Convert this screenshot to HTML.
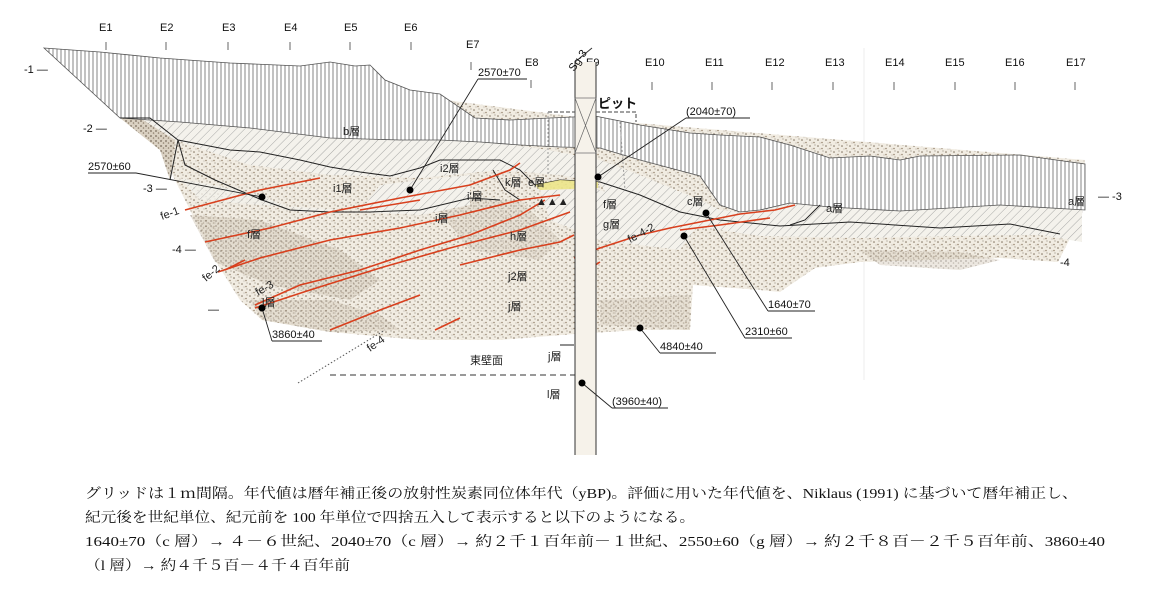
<!DOCTYPE html>
<html><head><meta charset="utf-8">
<style>
html,body{margin:0;padding:0;background:#fff;}
svg{display:block;}
.t{font-family:"Liberation Sans","Noto Sans CJK JP",sans-serif;font-size:11px;fill:#222;}
.n{font-family:"Liberation Sans",sans-serif;font-size:11px;fill:#111;}
.m{font-family:"Liberation Serif","Noto Serif CJK SC",serif;font-size:14px;fill:#111;}
.r{stroke:#d8401e;stroke-width:1.6;fill:none;}
.k{stroke:#222;stroke-width:1;fill:none;}
</style></head>
<body>
<svg width="1150" height="590" viewBox="0 0 1150 590" xmlns="http://www.w3.org/2000/svg">
<defs>
<pattern id="vl" width="4" height="10" patternUnits="userSpaceOnUse"><rect width="4" height="10" fill="#fff"/><line x1="1" y1="0" x2="1" y2="10" stroke="#666" stroke-width="0.8"/></pattern>
<pattern id="dg" width="6" height="6" patternUnits="userSpaceOnUse" patternTransform="rotate(45)"><rect width="6" height="6" fill="#f4f2ec"/><line x1="0" y1="0" x2="0" y2="6" stroke="#888" stroke-width="0.7"/></pattern>
<pattern id="dt" width="8" height="6" patternUnits="userSpaceOnUse"><rect width="8" height="6" fill="#f1ece2"/><circle cx="2" cy="2" r="0.8" fill="#7d6e5c"/><circle cx="6" cy="4.5" r="0.8" fill="#978670"/><circle cx="7" cy="1" r="0.5" fill="#6d6050"/><circle cx="4" cy="5" r="0.4" fill="#6d6050"/></pattern>
<pattern id="dd" width="5" height="5" patternUnits="userSpaceOnUse"><rect width="5" height="5" fill="#d8cfc0"/><circle cx="1" cy="1" r="0.9" fill="#6d5f4f"/><circle cx="3.5" cy="3" r="0.8" fill="#857563"/></pattern>
</defs>

<g class="n">
<text x="99" y="31">E1</text><text x="160" y="31">E2</text><text x="222" y="31">E3</text><text x="284" y="31">E4</text><text x="344" y="31">E5</text><text x="404" y="31">E6</text>
<text x="466" y="48">E7</text><text x="525" y="66">E8</text><text x="586" y="66">E9</text><text x="645" y="66">E10</text><text x="705" y="66">E11</text><text x="765" y="66">E12</text><text x="825" y="66">E13</text><text x="885" y="66">E14</text><text x="945" y="66">E15</text><text x="1005" y="66">E16</text><text x="1066" y="66">E17</text>
</g>
<g stroke="#666" stroke-width="1">
<line x1="106" y1="42" x2="106" y2="50"/><line x1="166" y1="42" x2="166" y2="50"/><line x1="228" y1="42" x2="228" y2="50"/><line x1="290" y1="42" x2="290" y2="50"/><line x1="350" y1="42" x2="350" y2="50"/><line x1="411" y1="42" x2="411" y2="50"/>
<line x1="471" y1="62" x2="471" y2="70"/><line x1="531" y1="80" x2="531" y2="88"/>
<line x1="591" y1="82" x2="591" y2="90"/><line x1="652" y1="82" x2="652" y2="90"/><line x1="712" y1="82" x2="712" y2="90"/><line x1="772" y1="82" x2="772" y2="90"/><line x1="833" y1="82" x2="833" y2="90"/><line x1="894" y1="82" x2="894" y2="90"/><line x1="955" y1="82" x2="955" y2="90"/><line x1="1015" y1="82" x2="1015" y2="90"/><line x1="1075" y1="82" x2="1075" y2="90"/>
<line x1="864" y1="48" x2="864" y2="380" stroke="#eee"/>
</g>
<g class="n">
<text x="24" y="73">-1 —</text><text x="83" y="132">-2 —</text><text x="143" y="192">-3 —</text><text x="172" y="253">-4 —</text><text x="208" y="313">—</text>
<text x="1098" y="200">— -3</text><text x="1060" y="266">-4</text>
</g>

<path d="M44,48 L120,118 L160,150 L185,200 L215,260 L240,300 L262,320 L330,332 L420,340 L500,340 L574,334 L640,330 L690,330 L693,285 L760,290 L780,292 L815,268 L860,262 L1000,258 L1058,262 L1082,215 L1085,160 L600,120 Z" fill="url(#dt)"/>
<path d="M190,215 L260,220 L340,250 L380,280 L350,300 L270,285 L215,262 Z" fill="url(#dd)" opacity="0.55"/>
<path d="M250,300 L330,300 L380,315 L400,330 L330,332 L262,320 Z" fill="url(#dd)" opacity="0.5"/>
<path d="M430,200 L520,200 L560,240 L540,260 L470,250 Z" fill="url(#dd)" opacity="0.4"/>
<path d="M600,300 L690,295 L690,330 L600,325 Z" fill="url(#dd)" opacity="0.4"/>
<path d="M860,250 L960,252 L1000,260 L960,270 L880,265 Z" fill="url(#dd)" opacity="0.5"/>
<path d="M120,118 L150,118 L175,140 L170,180 L160,150 Z" fill="url(#dd)" opacity="0.9"/>

<path d="M140,118 L300,122 L420,132 L480,140 L548,150 L600,160 L640,175 L700,200 L720,210 L740,212 L790,203 L830,207 L900,211 L1000,205 L1082,210 L1082,242 L1040,235 L960,236 L860,238 L760,236 L700,227 L640,212 L620,220 L600,182 L560,175 L500,170 L420,178 L330,175 L250,165 L175,140 Z" fill="url(#dg)"/>
<path d="M380,185 L420,180 L470,175 L470,205 L420,215 L360,212 Z" fill="url(#dg)"/>
<path d="M540,190 L600,190 L700,222 L680,250 L600,240 L550,220 Z" fill="url(#dg)"/>
<path d="M180,178 L260,195 L300,212 L330,212 L350,210 L260,205 L200,200 Z" fill="url(#dg)" opacity="0.8"/>

<path d="M44,48 L100,52 L160,58 L230,63 L300,66 L330,62 L355,66 L370,65 L385,80 L410,90 L440,94 L475,118 L510,120 L550,118 L595,116 L640,125 L690,133 L720,135 L760,137 L790,145 L830,158 L870,156 L900,160 L920,156 L1020,155 L1085,164 L1085,210 L1000,205 L900,211 L830,207 L790,203 L760,210 L740,212 L720,205 L700,176 L640,160 L600,148 L560,147 L520,145 L480,142 L440,140 L400,140 L330,138 L250,128 L180,122 L120,118 Z" fill="url(#vl)" stroke="#555" stroke-width="0.8"/>

<path class="k" d="M120,118 L150,118 L178,140 L230,150 L260,152 L300,160 L330,167 L360,172 L390,176 L420,168 L440,160 L470,160 L500,160 L520,170 L535,185 L560,180 L600,182 L640,195 L680,212 L720,220 L780,226 L850,222 L940,228 L1010,224 L1060,234"/>
<path class="k" d="M178,140 L185,165 L215,180 L262,200 L290,210 L330,212 L370,212 L420,210 L470,198 L500,200"/>
<path class="k" d="M178,140 L170,180"/>
<path class="k" d="M493,170 L505,190 L520,200"/>
<path class="k" d="M820,205 L805,220 L790,225"/>
<path class="k" d="M560,345 L574,345"/>

<path class="r" d="M185,210 L260,190 L320,178"/>
<path class="r" d="M205,242 L270,228 L330,212 L400,198 L470,185 L510,170 L520,163"/>
<path class="r" d="M218,272 L260,258 L330,240 L400,228 L460,215 L520,200 L560,195"/>
<path class="r" d="M225,270 L245,260"/>
<path class="r" d="M255,305 L300,285 L360,270 L420,250 L470,235 L520,215 L545,200"/>
<path class="r" d="M255,308 L310,290 L380,268 L450,248 L520,230 L570,212"/>
<path class="r" d="M330,330 L380,310 L420,295"/>
<path class="r" d="M435,330 L460,318"/>
<path class="r" d="M460,265 L520,250 L560,242 L574,235"/>
<path class="r" d="M360,210 L420,200"/>
<path class="r" d="M574,258 L600,248 L640,235 L670,228 L700,222 L740,214 L775,210 L795,205"/>
<path class="r" d="M680,230 L720,225 L770,218"/>
<path class="r" d="M580,275 L600,262"/>

<path d="M535,185 L560,180 L598,182 L598,188 L540,190 Z" fill="#ece58a" opacity="0.9"/>

<path d="M548,112 L636,112 L636,122" fill="none" stroke="#444" stroke-dasharray="4,2"/>
<path d="M548,112 L548,175" fill="none" stroke="#999" stroke-dasharray="2,2"/>
<path d="M620,122 L625,190" fill="none" stroke="#999" stroke-dasharray="2,2"/>

<rect x="575" y="62" width="21" height="393" fill="#f6f2ea"/>
<line x1="575" y1="62" x2="575" y2="455" stroke="#333"/>
<line x1="596" y1="62" x2="596" y2="455" stroke="#333"/>
<rect x="575" y="98" width="21" height="55" fill="none" stroke="#666" stroke-width="0.7"/>
<line x1="575" y1="98" x2="596" y2="153" stroke="#666" stroke-width="0.7"/><line x1="596" y1="98" x2="575" y2="153" stroke="#666" stroke-width="0.7"/>
<line x1="575" y1="62" x2="592" y2="48" stroke="#333"/>
<text class="n" x="0" y="0" transform="translate(574,72) rotate(-55)">Sg-3</text>

<line x1="330" y1="375" x2="575" y2="375" stroke="#333" stroke-dasharray="6,4"/>
<line x1="298" y1="383" x2="385" y2="330" stroke="#555" stroke-dasharray="1.5,2"/>

<g class="t">
<text x="343" y="135">b層</text>
<text x="333" y="192">i1層</text>
<text x="440" y="172">i2層</text>
<text x="505" y="186">k層</text>
<text x="528" y="186">e層</text>
<text x="467" y="200">i'層</text>
<text x="435" y="222">i層</text>
<text x="510" y="240">h層</text>
<text x="247" y="238">f層</text>
<text x="508" y="280">j2層</text>
<text x="508" y="310">j層</text>
<text x="262" y="306">l層</text>
<text x="603" y="208">f層</text>
<text x="603" y="228">g層</text>
<text x="687" y="205">c層</text>
<text x="826" y="212">a層</text>
<text x="1068" y="205">a層</text>
<text x="548" y="360">j層</text>
<text x="470" y="364">東壁面</text>
<text x="547" y="398">l層</text>
<text x="536" y="205">▲▲▲</text>
</g>
<text x="598" y="108" style="font-family:'Liberation Sans','Noto Sans CJK JP',sans-serif;font-size:13px;font-weight:bold;fill:#111">ピット</text>
<g class="t">
<text transform="translate(162,220) rotate(-20)">fe-1</text>
<text transform="translate(206,282) rotate(-40)">fe-2</text>
<text transform="translate(258,296) rotate(-30)">fe-3</text>
<text transform="translate(370,352) rotate(-35)">fe-4</text>
<text transform="translate(630,243) rotate(-28)">fe-4-2</text>
</g>

<g class="n" stroke="none">
<text x="478" y="76">2570±70</text>
<text x="88" y="170">2570±60</text>
<text x="272" y="338">3860±40</text>
<text x="686" y="115">(2040±70)</text>
<text x="768" y="308">1640±70</text>
<text x="745" y="335">2310±60</text>
<text x="660" y="350">4840±40</text>
<text x="612" y="405">(3960±40)</text>
</g>
<g stroke="#222" stroke-width="0.9" fill="none">
<path d="M478,79 L527,79 M478,79 L410,190"/>
<path d="M88,173 L136,173 L262,197"/>
<path d="M272,341 L322,341 M272,341 L262,308"/>
<path d="M686,118 L750,118 M686,118 L598,177"/>
<path d="M768,311 L815,311 M768,311 L706,213"/>
<path d="M745,338 L792,338 M745,338 L684,236"/>
<path d="M660,353 L716,353 M660,353 L640,328"/>
<path d="M612,408 L668,408 M612,408 L582,383"/>
</g>
<g fill="#000">
<circle cx="410" cy="190" r="3.5"/><circle cx="262" cy="197" r="3.5"/><circle cx="262" cy="308" r="3.5"/><circle cx="598" cy="177" r="3.5"/><circle cx="706" cy="213" r="3.5"/><circle cx="684" cy="236" r="3.5"/><circle cx="640" cy="328" r="3.5"/><circle cx="582" cy="383" r="3.5"/>
</g>

<text class="m" x="85" y="498" textLength="993" lengthAdjust="spacingAndGlyphs">グリッドは１ｍ間隔。年代値は暦年補正後の放射性炭素同位体年代（yBP)。評価に用いた年代値を、Niklaus (1991) に基づいて暦年補正し、</text>
<text class="m" x="85" y="522" textLength="610" lengthAdjust="spacingAndGlyphs">紀元後を世紀単位、紀元前を 100 年単位で四捨五入して表示すると以下のようになる。</text>
<text class="m" x="85" y="546" textLength="1020" lengthAdjust="spacingAndGlyphs">1640±70（c 層）→ ４－６世紀、2040±70（c 層）→ 約２千１百年前－１世紀、2550±60（g 層）→ 約２千８百－２千５百年前、3860±40</text>
<text class="m" x="85" y="570" textLength="265" lengthAdjust="spacingAndGlyphs">（l 層）→ 約４千５百－４千４百年前</text>
</svg>
</body></html>
